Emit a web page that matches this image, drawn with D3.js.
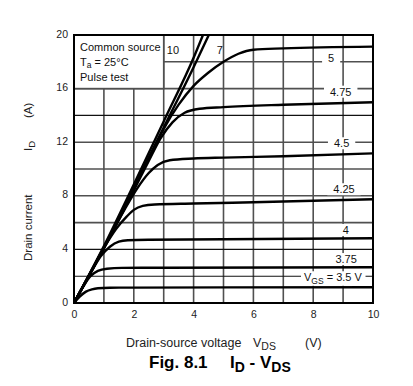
<!DOCTYPE html>
<html>
<head>
<meta charset="utf-8">
<script src="https://cdnjs.cloudflare.com/ajax/libs/d3/7.8.5/d3.min.js"></script>
<style>
  html, body { margin: 0; padding: 0; background: #fff; }
  svg { display: block; font-family: "Liberation Sans", Arial, sans-serif; }
</style>
</head>
<body>
<svg id="chart" width="413" height="386"></svg>
<script>
// ---- data ----
const xTickValues = [0, 2, 4, 6, 8, 10];
const yTickValues = [0, 4, 8, 12, 16, 20];
const vgsLabels = ["3.5", "3.75", "4", "4.25", "4.5", "4.75", "5", "7", "10"];
const curve3_5  = [[0,0],[0.2,0.5],[0.4,0.85],[0.6,1.02],[0.8,1.1],[1.2,1.14],[2,1.15],[10,1.18]];
const curve3_75 = [[0,0],[0.3,1.2],[0.55,2.0],[0.8,2.4],[1.1,2.56],[1.6,2.62],[3,2.63],[10,2.67]];
const curve4    = [[0,0],[0.5,2.0],[0.9,3.5],[1.2,4.2],[1.5,4.58],[1.8,4.68],[2.5,4.72],[10,4.83]];
const curve4_25 = [[0,0],[0.5,2.05],[1,4.1],[1.4,5.5],[1.76,6.44],[2.0,6.95],[2.3,7.25],[2.7,7.35],[4,7.42],[6,7.52],[10,7.74]];
const curve4_5  = [[0,0],[1,4.1],[1.7,7.0],[2.1,8.5],[2.5,9.7],[2.8,10.3],[3.2,10.65],[4,10.78],[5,10.85],[7,10.95],[10,11.17]];
const curve4_75 = [[0,0],[1,4.1],[2,8.4],[2.5,10.6],[2.9,12.3],[3.3,13.5],[3.7,14.2],[4.2,14.5],[5,14.62],[7,14.8],[10,14.98]];
const curve5    = [[0,0],[1,4.1],[2,8.5],[2.5,10.8],[3,13.0],[3.5,14.8],[4,16.2],[4.5,17.2],[5,18.0],[5.5,18.6],[6,18.9],[7,19.0],[10,19.13]];
const curve7    = [[0,0],[1,4.15],[2,8.6],[3,13.1],[4,17.6],[4.55,20.2]];
const curve10   = [[0,0],[1,4.25],[2,8.85],[3,13.55],[4,18.3],[4.35,20.2]];
const curves = [curve3_5, curve3_75, curve4, curve4_25, curve4_5, curve4_75, curve5, curve7, curve10];
// label anchor points (data units) for each VGS label
const labelX = [8.66, 9.1, 9.09, 9.03, 8.95, 8.92, 8.6, 4.88, 3.31];
const labelY = [1.92, 3.28, 5.45, 8.49, 11.92, 15.77, 18.26, 18.9, 18.9];

// ---- layout ----
const svg = d3.select("#chart");
const mLeft = 74, mRight = 373, mTop = 35, mBottom = 303;
const x = d3.scaleLinear().domain([0, 10]).range([mLeft, mRight]);
const y = d3.scaleLinear().domain([0, 20]).range([mBottom, mTop]);

svg.append("defs").append("clipPath").attr("id", "plotclip")
  .append("rect").attr("x", mLeft).attr("y", mTop).attr("width", mRight - mLeft).attr("height", mBottom - mTop);

// grid
const gridV = x.ticks(10), gridH = y.ticks(10);
const g = svg.append("g");
g.selectAll("line.v").data(gridV).join("line").attr("class", "v")
  .attr("x1", d => x(d)).attr("x2", d => x(d)).attr("y1", mTop).attr("y2", mBottom)
  .attr("stroke", "#505050").attr("stroke-width", 1.6);
g.selectAll("line.h").data(gridH).join("line").attr("class", "h")
  .attr("y1", d => y(d)).attr("y2", d => y(d)).attr("x1", mLeft).attr("x2", mRight)
  .attr("stroke", d => (d === 2 || d === 4 || d === 14) ? "#111" : "#505050")
  .attr("stroke-width", d => (d === 2 || d === 4 || d === 14) ? 1.1 : 1.6);

// info box
svg.append("rect").attr("x", x(0)).attr("y", y(20)).attr("width", x(3) - x(0)).attr("height", y(16) - y(20))
  .attr("fill", "#fff").attr("stroke", "#505050").attr("stroke-width", 1.6);
const info = svg.append("text").attr("font-size", 11).attr("fill", "#111");
info.append("tspan").attr("x", x(0) + 6).attr("y", 50.5).text("Common source");
info.append("tspan").attr("x", x(0) + 6).attr("y", 65.5).text("T");
info.append("tspan").attr("dy", 2.5).attr("font-size", 8.5).text("a");
info.append("tspan").attr("dy", -2.5).text(" = 25°C");
info.append("tspan").attr("x", x(0) + 6).attr("y", 80.5).text("Pulse test");

// curves
const line = d3.line().x(d => x(d[0])).y(d => y(d[1])).curve(d3.curveMonotoneX);
svg.append("g").attr("clip-path", "url(#plotclip)")
  .selectAll("path").data(curves).join("path")
  .attr("d", line).attr("fill", "none").attr("stroke", "#000")
  .attr("stroke-width", 2.4).attr("stroke-linejoin", "round").attr("stroke-linecap", "round");

// curve labels
const lg = svg.append("g").attr("font-size", 11).attr("fill", "#111");
vgsLabels.forEach((lab, i) => {
  const t = lg.append("text").attr("x", x(labelX[i])).attr("y", y(labelY[i]) + 4).attr("text-anchor", "middle");
  if (i === 0) {
    t.append("tspan").text("V");
    t.append("tspan").attr("dy", 2.5).attr("font-size", 8.5).text("GS");
    t.append("tspan").attr("dy", -2.5).text(" = 3.5 V");
  } else {
    t.text(lab);
  }
  if (i !== 7) {
    const bb = t.node().getBBox();
    const padX = i === 0 ? 3 : (i === 8 ? 1 : 6);
    lg.insert("rect", () => t.node())
      .attr("x", bb.x - padX).attr("y", bb.y).attr("width", bb.width + 2 * padX).attr("height", bb.height)
      .attr("fill", "#fff");
  }
});

// frame
svg.append("rect").attr("x", mLeft).attr("y", mTop).attr("width", mRight - mLeft).attr("height", mBottom - mTop)
  .attr("fill", "none").attr("stroke", "#000").attr("stroke-width", 2);

// axes (labels only)
const xAxis = d3.axisBottom(x).tickValues(xTickValues).tickSize(0).tickPadding(8);
const xa = svg.append("g").attr("transform", `translate(0,${mBottom})`).call(xAxis);
xa.select(".domain").remove();
xa.selectAll("text").attr("font-size", 10.5).attr("fill", "#222").attr("font-family", "Liberation Sans, Arial, sans-serif");
const yAxis = d3.axisLeft(y).tickValues(yTickValues).tickSize(0).tickPadding(6);
const ya = svg.append("g").attr("transform", `translate(${mLeft},0)`).call(yAxis);
ya.select(".domain").remove();
ya.selectAll("text").attr("font-size", 10.5).attr("fill", "#222").attr("dy", "0.2em").attr("font-family", "Liberation Sans, Arial, sans-serif");

// x axis title
const xt = svg.append("text").attr("font-size", 12.5).attr("fill", "#222").attr("y", 347.3);
xt.append("tspan").attr("x", 126).text("Drain-source voltage");
xt.append("tspan").attr("x", 253).text("V");
xt.append("tspan").attr("dy", 3).attr("font-size", 10.5).text("DS");
xt.append("tspan").attr("x", 305).attr("dy", -3).text("(V)");

// y axis title
const yt = svg.append("text").attr("font-size", 11.5).attr("fill", "#222")
  .attr("transform", "translate(32,261) rotate(-90)");
yt.append("tspan").attr("x", 0).text("Drain current");
yt.append("tspan").attr("x", 110).text("I");
yt.append("tspan").attr("dy", 3).attr("font-size", 9.5).text("D");
yt.append("tspan").attr("x", 143).attr("dy", -3).text("(A)");

// figure caption
const ft = svg.append("text").attr("font-size", 17).attr("font-weight", "bold").attr("fill", "#000").attr("y", 368);
ft.append("tspan").attr("x", 149).text("Fig. 8.1");
ft.append("tspan").attr("x", 230).text("I");
ft.append("tspan").attr("dy", 3.5).attr("font-size", 14).text("D");
ft.append("tspan").attr("dy", -3.5).text(" - V");
ft.append("tspan").attr("dy", 3.5).attr("font-size", 14).text("DS");
</script>
</body>
</html>
